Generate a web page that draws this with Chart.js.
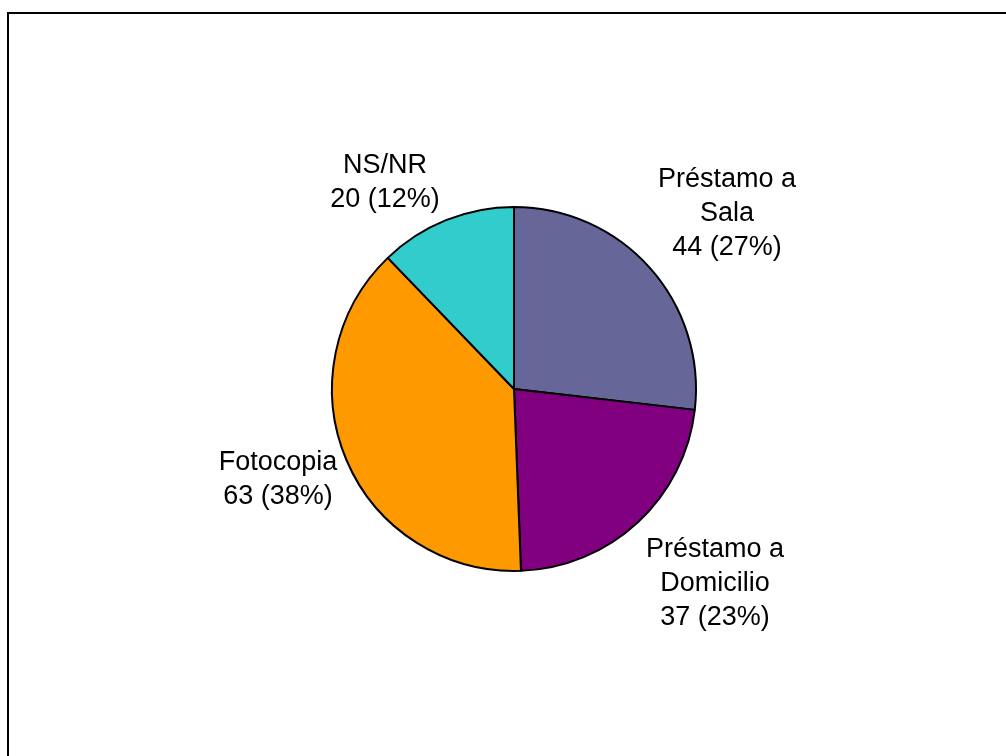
<!DOCTYPE html>
<html>
<head>
<meta charset="utf-8">
<script src="https://cdn.jsdelivr.net/npm/chart.js@4/dist/chart.umd.min.js"></script>
<style>
    html, body { margin: 0; padding: 0; background: #fff; }
    #wrap { position: relative; width: 1006px; height: 756px; overflow: hidden; }
    #frame {
        position: absolute; left: 7px; top: 12px; right: 0; bottom: 0;
        border-left: 2px solid #000; border-top: 2px solid #000;
    }
    #chart { position: absolute; left: 0; top: 0; }
</style>
</head>
<body>
<div id="wrap">
    <div id="frame"></div>
    <canvas id="chart" width="1006" height="756"></canvas>
</div>
<script>
// Datos del gráfico
const categorias = [['Préstamo a', 'Sala'], ['Préstamo a', 'Domicilio'], ['Fotocopia'], ['NS/NR']];
const valores = [44, 37, 63, 20];
const colores = ['#666699', '#800080', '#FF9900', '#33CCCC'];

// Posición de cada etiqueta (centro del bloque, relativo al centro del pastel)
const posEtiquetas = [[213, -175], [201, 195], [-236, 91], [-129, -206]];

// Etiquetas de datos tipo Excel: nombre + valor (porcentaje)
const etiquetasPlugin = {
    id: 'etiquetas',
    afterDatasetsDraw(chart) {
        const ctx = chart.ctx;
        const meta = chart.getDatasetMeta(0);
        const total = valores.reduce((a, b) => a + b, 0);
        const lineH = 34;
        ctx.save();
        ctx.font = '27px "Liberation Sans", Arial, sans-serif';
        ctx.fillStyle = '#000';
        ctx.textAlign = 'center';
        ctx.textBaseline = 'middle';
        meta.data.forEach(function(arc, i) {
            const lineas = categorias[i].concat([valores[i] + ' (' + Math.round(valores[i] / total * 100) + '%)']);
            const cx = arc.x + posEtiquetas[i][0];
            const cy = arc.y + posEtiquetas[i][1];
            const y0 = cy - (lineas.length - 1) * lineH / 2;
            lineas.forEach(function(t, j) {
                ctx.fillText(t, cx, y0 + j * lineH);
            });
        });
        ctx.restore();
    }
};

const chart = new Chart(document.getElementById('chart').getContext('2d'), {
    type: 'pie',
    data: {
        labels: categorias.map(c => c.join(' ')),
        datasets: [{
            data: valores,
            backgroundColor: colores,
            borderColor: '#000',
            borderWidth: 2,
            hoverOffset: 0
        }]
    },
    options: {
        responsive: false,
        animation: false,
        events: [],
        layout: { padding: { left: 331, right: 309, top: 206, bottom: 184 } },
        plugins: {
            legend: { display: false },
            tooltip: { enabled: false }
        }
    },
    plugins: [etiquetasPlugin]
});
</script>
</body>
</html>
